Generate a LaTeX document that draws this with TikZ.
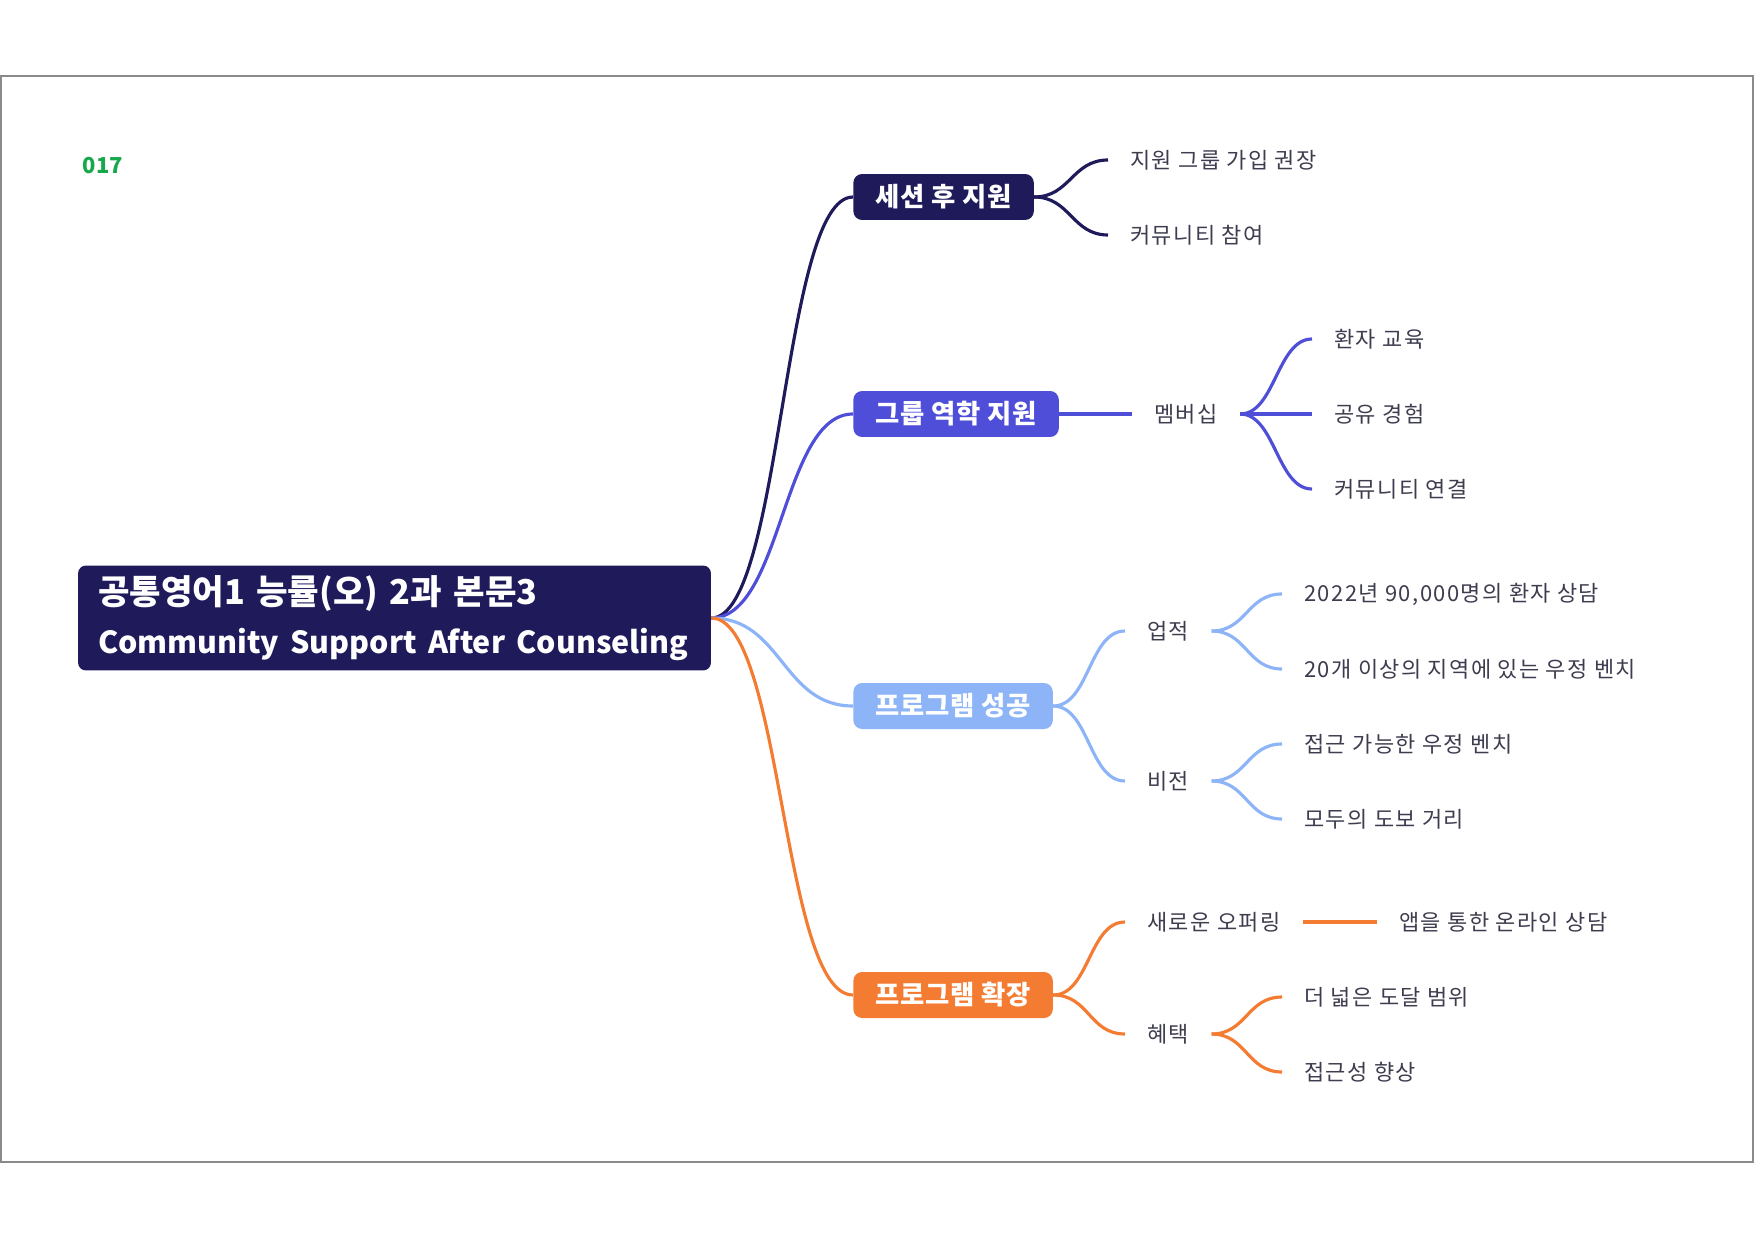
\documentclass[tikz,border=0pt]{standalone}
\usepackage{fontspec}
\setmainfont{Noto Sans CJK KR}
\definecolor{navy}{HTML}{1F1B5B}
\definecolor{indigo}{HTML}{4E4ED8}
\definecolor{skyblue}{HTML}{8DB4F6}
\definecolor{carrot}{HTML}{F47C32}
\definecolor{leafgray}{HTML}{3D3D4F}
\definecolor{numgreen}{HTML}{16A84A}
\definecolor{framegray}{HTML}{8A8A8A}
\begin{document}
\begin{tikzpicture}[x=0.02cm, y=-0.02cm,
  every node/.style={font=\fontsize{12.5}{15}\selectfont\addfontfeatures{LetterSpace=6.5}, text=leafgray},
  rootbox/.style={fill=navy, text=white, rounded corners=4.5pt, align=left,
    text width=11.86cm, minimum height=2.1cm, inner xsep=0.4cm,
    font=\fontsize{19.5}{28}\selectfont\bfseries},
  mainbox/.style={rounded corners=5pt, text=white, anchor=west,
    minimum height=0.92cm, inner xsep=0.44cm,
    font=\fontsize{15}{18}\selectfont\bfseries\addfontfeatures{LetterSpace=3}},
  leaf/.style={inner xsep=0.44cm, anchor=west},
  link/.style={line width=1.8pt}]
  \useasboundingbox (0,0) rectangle (1754,1240);
  \draw[framegray, line width=0.9pt] (1,76) rectangle (1753,1162);
  \node[text=numgreen, font=\fontsize{12.5}{14}\selectfont\bfseries] (num) at (103,166) {017};

  % root
  \node[rootbox] (root) at (394.5,618) {공통영어1 능률(오) 2과 본문3\\
    {\fontsize{17.3}{28}\selectfont Community Support After Counseling}};

  % main branches
  \node[mainbox, fill=navy] (ses) at (853,197) {세션 후 지원};
  \node[mainbox, fill=indigo] (grp) at (853,414) {그룹 역학 지원};
  \node[mainbox, fill=skyblue] (suc) at (853,706) {프로그램 성공};
  \node[mainbox, fill=carrot] (exp) at (853,995) {프로그램 확장};

  % leaves
  \node[leaf] (join) at (1108,160) {지원 그룹 가입 권장};
  \node[leaf] (comm) at (1108,235) {커뮤니티 참여};
  \node[leaf] (mem) at (1132,414) {멤버십};
  \node[leaf] (edu) at (1312,339) {환자 교육};
  \node[leaf] (share) at (1312,414) {공유 경험};
  \node[leaf] (conn) at (1312,489) {커뮤니티 연결};
  \node[leaf] (ach) at (1125,631) {업적};
  \node[leaf] (vis) at (1125,781) {비전};
  \node[leaf] (cnt) at (1282,594) {2022년 90,000명의 환자 상담};
  \node[leaf] (bench) at (1282,669) {20개 이상의 지역에 있는 우정 벤치};
  \node[leaf] (acc) at (1282,744) {접근 가능한 우정 벤치};
  \node[leaf] (walk) at (1282,819) {모두의 도보 거리};
  \node[leaf] (newo) at (1125,922) {새로운 오퍼링};
  \node[leaf] (app) at (1377,922) {앱을 통한 온라인 상담};
  \node[leaf] (ben) at (1125,1034) {혜택};
  \node[leaf] (reach) at (1282,997) {더 넓은 도달 범위};
  \node[leaf] (access) at (1282,1072) {접근성 향상};

  % connectors
  \draw[link, navy] (root.east) .. controls +(71,0) and +(-71,0) .. (ses.west);
  \draw[link, indigo] (root.east) .. controls +(71,0) and +(-71,0) .. (grp.west);
  \draw[link, skyblue] (root.east) .. controls +(71,0) and +(-71,0) .. (suc.west);
  \draw[link, carrot] (root.east) .. controls +(71,0) and +(-71,0) .. (exp.west);

  \draw[link, navy] (ses.east) .. controls +(36,0) and +(-36,0) .. (join.west);
  \draw[link, navy] (ses.east) .. controls +(36,0) and +(-36,0) .. (comm.west);

  \draw[link, indigo] (grp.east) -- (mem.west);
  \draw[link, indigo] (mem.east) .. controls +(35,0) and +(-35,0) .. (edu.west);
  \draw[link, indigo] (mem.east) -- (share.west);
  \draw[link, indigo] (mem.east) .. controls +(35,0) and +(-35,0) .. (conn.west);

  \draw[link, skyblue] (suc.east) .. controls +(36,0) and +(-36,0) .. (ach.west);
  \draw[link, skyblue] (suc.east) .. controls +(36,0) and +(-36,0) .. (vis.west);
  \draw[link, skyblue] (ach.east) .. controls +(35,0) and +(-35,0) .. (cnt.west);
  \draw[link, skyblue] (ach.east) .. controls +(35,0) and +(-35,0) .. (bench.west);
  \draw[link, skyblue] (vis.east) .. controls +(35,0) and +(-35,0) .. (acc.west);
  \draw[link, skyblue] (vis.east) .. controls +(35,0) and +(-35,0) .. (walk.west);

  \draw[link, carrot] (exp.east) .. controls +(36,0) and +(-36,0) .. (newo.west);
  \draw[link, carrot] (exp.east) .. controls +(36,0) and +(-36,0) .. (ben.west);
  \draw[link, carrot] (newo.east) -- (app.west);
  \draw[link, carrot] (ben.east) .. controls +(35,0) and +(-35,0) .. (reach.west);
  \draw[link, carrot] (ben.east) .. controls +(35,0) and +(-35,0) .. (access.west);
\end{tikzpicture}
\end{document}
